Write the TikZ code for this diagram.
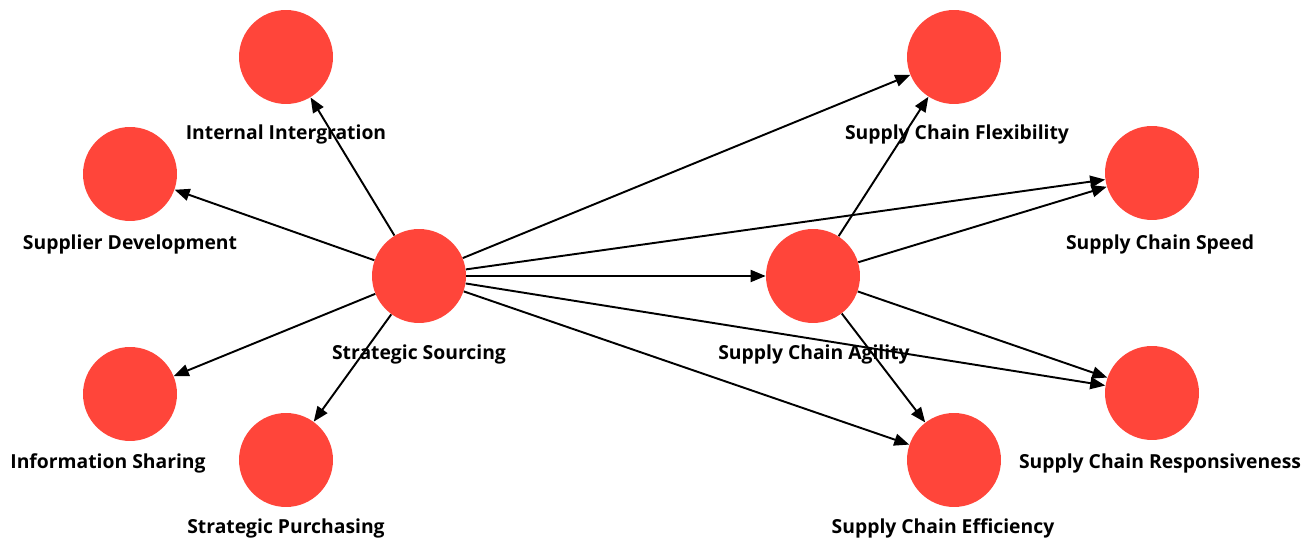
\documentclass[tikz,border=0pt]{standalone}
\usepackage{fontspec}
\setmainfont{Open Sans}
\usepackage{tikz}
\usetikzlibrary{arrows.meta}

\definecolor{nodered}{RGB}{255,69,58}

\begin{document}
\begin{tikzpicture}[x=0.02cm, y=-0.02cm,
    construct/.style={circle, fill=nodered, minimum size=1.88cm, inner sep=0pt},
    caption/.style={font=\fontsize{11}{13}\selectfont\bfseries, inner sep=0pt},
    link/.style={-{Triangle[length=3mm, width=2.4mm]}, line width=1.1pt, black}]
      \useasboundingbox (0,0) rectangle (1316,540);
      % constructs: name / circle x / circle y / label x / label y / label
      \foreach \n/\x/\y/\lx/\ly/\txt in {
          II/286/57/286/134/Internal Intergration,
          SD/130/174/130/244/Supplier Development,
          SS/419/276/419/354/Strategic Sourcing,
          IS/130/394/108/463/Information Sharing,
          SP/286/460/286/528/Strategic Purchasing,
          SCF/954/57/957/134/Supply Chain Flexibility,
          SCS/1152/173/1160/244/Supply Chain Speed,
          SCA/813/276/814/354/Supply Chain Agility,
          SCR/1152/393/1160/463/Supply Chain Responsiveness,
          SCE/954/460/943/528/Supply Chain Efficiency} {
        \node[construct] (\n) at (\x,\y) {};
        \node[caption]   (\n-lab) at (\lx,\ly) {\txt};
      }
      % paths
      \foreach \from/\to in {SS/II, SS/SD, SS/IS, SS/SP, SS/SCF, SS/SCS,
          SS/SCA, SS/SCR, SS/SCE, SCA/SCF, SCA/SCS, SCA/SCR, SCA/SCE} {
        \draw[link] (\from) -- (\to);
      }
    \end{tikzpicture}
\end{document}
